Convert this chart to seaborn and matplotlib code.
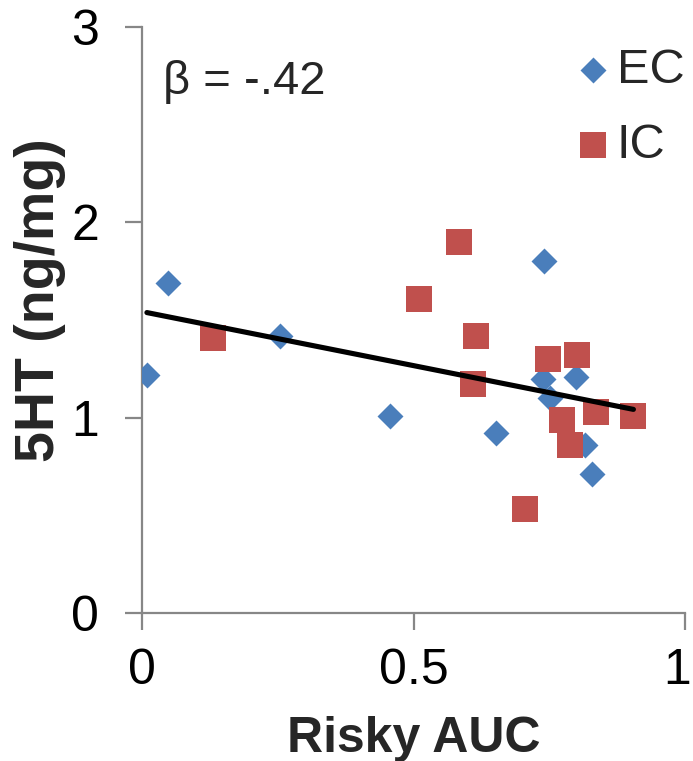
import numpy as np
import pandas as pd
import seaborn as sns
import matplotlib
matplotlib.use("Agg")
import matplotlib.pyplot as plt
import matplotlib.transforms as mtransforms

# ---- data ----
ec_x = [0.009, 0.048, 0.254, 0.456, 0.652, 0.740, 0.739, 0.751, 0.799, 0.816, 0.829]
ec_y = [1.22, 1.69, 1.42, 1.01, 0.92, 1.80, 1.20, 1.10, 1.21, 0.86, 0.71]
ic_x = [0.131, 0.511, 0.583, 0.615, 0.610, 0.705, 0.748, 0.773, 0.789, 0.802, 0.836, 0.905]
ic_y = [1.41, 1.61, 1.90, 1.42, 1.17, 0.53, 1.30, 0.99, 0.86, 1.32, 1.03, 1.01]
groups = ["EC", "IC"]
x_ticks = [0, 0.5, 1]
x_ticklabels = ["0", "0.5", "1"]
y_ticks = [0, 1, 2, 3]
y_ticklabels = ["0", "1", "2", "3"]
x_label = "Risky AUC"
y_label = "5HT (ng/mg)"
beta_text = "\u03b2 = -.42"

ec = pd.DataFrame({"auc": ec_x, "ht": ec_y, "group": "EC"})
ic = pd.DataFrame({"auc": ic_x, "ht": ic_y, "group": "IC"})
allpts = pd.concat([ec, ic], ignore_index=True)

sns.set_theme(style="white")
plt.rcParams["font.family"] = ["Liberation Sans", "DejaVu Sans"]

W, H = 693, 761
fig = plt.figure(figsize=(W / 100, H / 100), dpi=100)
ax = fig.add_axes([142 / W, 1 - 613 / H, (685 - 142) / W, (613 - 27) / H])

blue = "#4A7EBB"
red = "#C0504D"
gray = "#878787"

sns.scatterplot(data=ec, x="auc", y="ht", marker="D", s=175, color=blue,
                linewidth=0, ax=ax, label="EC", zorder=3)
sns.scatterplot(data=ic, x="auc", y="ht", marker="s", s=350, color=red,
                linewidth=0, ax=ax, label="IC", zorder=4)
sns.regplot(data=allpts, x="auc", y="ht", scatter=False, ci=None, ax=ax,
            line_kws={"color": "black", "linewidth": 3.7, "zorder": 5})

ax.set_xlim(0, 1)
ax.set_ylim(0, 3)
ax.set_xticks(x_ticks)
ax.set_xticklabels(x_ticklabels)
ax.set_yticks(y_ticks)
ax.set_yticklabels(y_ticklabels)

for side in ["top", "right"]:
    ax.spines[side].set_visible(False)
for side in ["left", "bottom"]:
    ax.spines[side].set_color(gray)
    ax.spines[side].set_linewidth(1.6)

ax.tick_params(axis="both", direction="out", color=gray, width=1.6,
               length=12, labelsize=36, labelcolor="black")
ax.tick_params(axis="y", pad=19, left=True)
ax.tick_params(axis="x", pad=13, bottom=True)

# keep the last x tick label inside the canvas
last = ax.get_xticklabels()[-1]
last.set_transform(last.get_transform() +
                   mtransforms.ScaledTranslation(-8 / 100, 0, fig.dpi_scale_trans))

xl = ax.set_xlabel(x_label, fontsize=36, fontweight="bold", va="baseline")
ax.xaxis.set_label_coords(0.5, (613 - 752) / 586)
yl = ax.set_ylabel(y_label, fontsize=40, fontweight="bold")
yl.set_rotation_mode("anchor")
yl.set_va("baseline")
yl.set_ha("center")
ax.yaxis.set_label_coords((54 - 142) / 543, (613 - 300) / 586)

ax.text((163 - 142) / 543, (613 - 94) / 586, beta_text, transform=ax.transAxes,
        fontsize=34, va="baseline", ha="left")

handles, labels = ax.get_legend_handles_labels()
ax.legend(handles, labels, loc="upper left",
          bbox_to_anchor=((578 - 142) / 543, (613 - 48) / 586),
          frameon=False, fontsize=35, handlelength=0.6, handletextpad=0.2,
          labelspacing=0.62, borderpad=0, borderaxespad=0, scatterpoints=1)

fig.savefig("out.png", dpi=100)
